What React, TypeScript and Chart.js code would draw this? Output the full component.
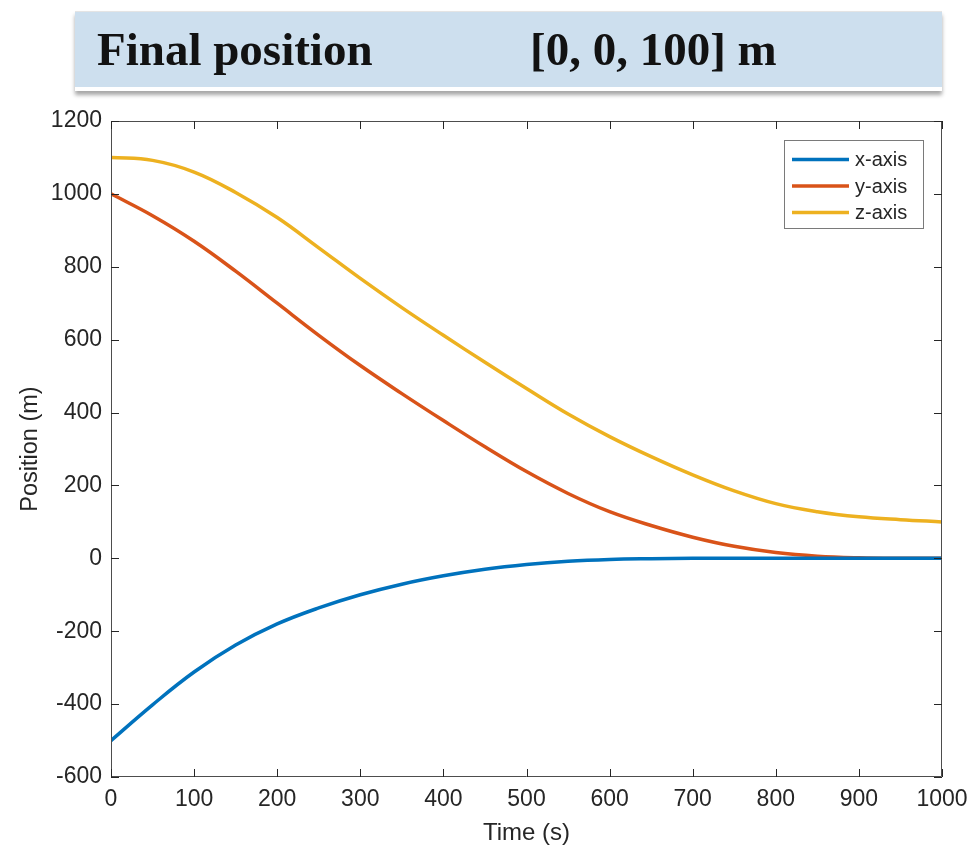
import React, { useEffect, useRef } from "react";
import { Chart, registerables } from "chart.js";

Chart.register(...registerables);

const TITLE_LEFT = "Final position";
const TITLE_RIGHT = "[0, 0, 100] m";

const TIME = [0, 50, 100, 150, 200, 250, 300, 350, 400, 450, 500, 550, 600, 650, 700, 750, 800, 850, 900, 950, 1000];
const X_AXIS = [-500, -402, -312, -238, -180, -136, -100, -71, -48, -30, -17, -8, -3, -1, 0, 0, 0, 0, 0, 0, 0];
const Y_AXIS = [1000, 940, 870, 788, 700, 612, 529, 452, 378, 306, 238, 178, 128, 90, 58, 33, 16, 6, 1.5, 0, 0];
const Z_AXIS = [1100, 1092, 1060, 1004, 935, 852, 768, 688, 612, 538, 466, 396, 334, 279, 229, 185, 150, 128, 114, 106, 100];

const SERIES_LABELS = ["x-axis", "y-axis", "z-axis"];
const SERIES_COLORS = ["#0072BD", "#D95319", "#EDB120"];

const X_TICKS = [0, 100, 200, 300, 400, 500, 600, 700, 800, 900, 1000];
const Y_TICKS = [-600, -400, -200, 0, 200, 400, 600, 800, 1000, 1200];

const FONT = "'Liberation Sans', Arial, Helvetica, sans-serif";
const AXIS_COLOR = "#262626";

const boxTicksPlugin = {
  id: "boxTicks",
  afterDatasetsDraw(chart: any) {
    const { ctx, chartArea } = chart;
    const { left, right, top, bottom } = chartArea;
    const xs = chart.scales.x;
    const ys = chart.scales.y;
    const len = 8;
    ctx.save();
    ctx.strokeStyle = "#4d4d4d";
    ctx.lineWidth = 1;
    ctx.beginPath();
    ctx.rect(left + 0.5, top + 0.5, right - left - 1, bottom - top - 1);
    ctx.stroke();
    ctx.strokeStyle = AXIS_COLOR;
    ctx.beginPath();
    X_TICKS.forEach((v) => {
      const px = Math.round(xs.getPixelForValue(v)) + 0.5;
      ctx.moveTo(px, bottom);
      ctx.lineTo(px, bottom - len);
      ctx.moveTo(px, top);
      ctx.lineTo(px, top + len);
    });
    Y_TICKS.forEach((v) => {
      const py = Math.round(ys.getPixelForValue(v)) + 0.5;
      ctx.moveTo(left, py);
      ctx.lineTo(left + len, py);
      ctx.moveTo(right, py);
      ctx.lineTo(right - len, py);
    });
    ctx.stroke();
    ctx.restore();
  },
  afterDraw(chart: any) {
    const { ctx, chartArea } = chart;
    const boxRight = chartArea.right - 18;
    const boxLeft = boxRight - 140;
    const boxTop = chartArea.top + 19;
    const rowH = 26.5;
    const boxH = 89;
    ctx.save();
    ctx.fillStyle = "#ffffff";
    ctx.fillRect(boxLeft, boxTop, boxRight - boxLeft, boxH);
    ctx.strokeStyle = "#7a7a7a";
    ctx.lineWidth = 1;
    ctx.strokeRect(boxLeft + 0.5, boxTop + 0.5, boxRight - boxLeft - 1, boxH - 1);
    ctx.font = `20px ${FONT}`;
    ctx.textBaseline = "middle";
    ctx.textAlign = "left";
    chart.data.datasets.forEach((ds: any, i: number) => {
      const cy = boxTop + 19.5 + i * rowH;
      ctx.strokeStyle = ds.borderColor;
      ctx.lineWidth = 3.5;
      ctx.beginPath();
      ctx.moveTo(boxLeft + 8, cy);
      ctx.lineTo(boxLeft + 65, cy);
      ctx.stroke();
      ctx.fillStyle = AXIS_COLOR;
      ctx.fillText(ds.label, boxLeft + 71, cy + 1);
    });
    ctx.restore();
  },
};

export default function App() {
  const canvasRef = useRef<HTMLCanvasElement | null>(null);

  useEffect(() => {
    if (!canvasRef.current) return;
    const series = [X_AXIS, Y_AXIS, Z_AXIS];
    const chart = new Chart(canvasRef.current, {
      type: "line",
      data: {
        datasets: series.map((vals, i) => ({
          label: SERIES_LABELS[i],
          data: TIME.map((t, k) => ({ x: t, y: vals[k] })),
          borderColor: SERIES_COLORS[i],
          backgroundColor: SERIES_COLORS[i],
          borderWidth: 3.5,
          pointRadius: 0,
          tension: 0.4,
          fill: false,
        })),
      },
      options: {
        animation: false,
        responsive: false,
        maintainAspectRatio: false,
        layout: { padding: { left: 0, right: 31, top: 121, bottom: 0 } },
        plugins: {
          legend: { display: false },
          tooltip: { enabled: false },
          title: { display: false },
        },
        scales: {
          x: {
            type: "linear",
            min: 0,
            max: 1000,
            afterBuildTicks: (scale: any) => {
              scale.ticks = X_TICKS.map((v) => ({ value: v }));
            },
            afterFit: (scale: any) => {
              scale.height = 71;
              scale.paddingLeft = 0;
              scale.paddingRight = 0;
            },
            grid: { display: false, drawTicks: false },
            border: { display: false },
            ticks: {
              color: AXIS_COLOR,
              font: { family: FONT, size: 23 },
              padding: 9,
              maxRotation: 0,
              autoSkip: false,
              callback: (v: any) => String(v),
            },
            title: {
              display: true,
              text: "Time (s)",
              color: AXIS_COLOR,
              font: { family: FONT, size: 24 },
              padding: { top: 0, bottom: 0 },
            },
          },
          y: {
            type: "linear",
            min: -600,
            max: 1200,
            afterBuildTicks: (scale: any) => {
              scale.ticks = Y_TICKS.map((v) => ({ value: v }));
            },
            afterFit: (scale: any) => {
              scale.width = 111;
              scale.paddingTop = 0;
              scale.paddingBottom = 0;
            },
            grid: { display: false, drawTicks: false },
            border: { display: false },
            ticks: {
              color: AXIS_COLOR,
              font: { family: FONT, size: 23 },
              padding: 9,
              autoSkip: false,
              callback: (v: any) => String(v),
            },
            title: {
              display: true,
              text: "Position (m)",
              color: AXIS_COLOR,
              font: { family: FONT, size: 23.5 },
              padding: { top: 16, bottom: 0 },
            },
          },
        },
      },
      plugins: [boxTicksPlugin],
    });
    return () => chart.destroy();
  }, []);

  return (
    <div style={{ position: "absolute", left: 0, top: 0, width: 973, height: 848, background: "#ffffff", overflow: "hidden" }}>
      <canvas ref={canvasRef} width={973} height={848} style={{ position: "absolute", left: 0, top: 0, width: 973, height: 848 }} />
      <div
        style={{
          position: "absolute",
          left: 75,
          top: 11,
          width: 867,
          height: 75,
          background: "#cddfee",
          borderTop: "1px solid #e4e4e4",
          borderBottom: "4px solid #ffffff",
          boxShadow: "0 4px 4px rgba(0,0,0,0.35)",
          fontFamily: "'Liberation Serif', 'Times New Roman', serif",
          fontWeight: "bold",
          fontSize: 47,
          color: "#121212",
          lineHeight: "75px",
        }}
      >
        <span style={{ position: "absolute", left: 22, top: 0 }}>{TITLE_LEFT}</span>
        <span style={{ position: "absolute", left: 455, top: 0 }}>{TITLE_RIGHT}</span>
      </div>
    </div>
  );
}
